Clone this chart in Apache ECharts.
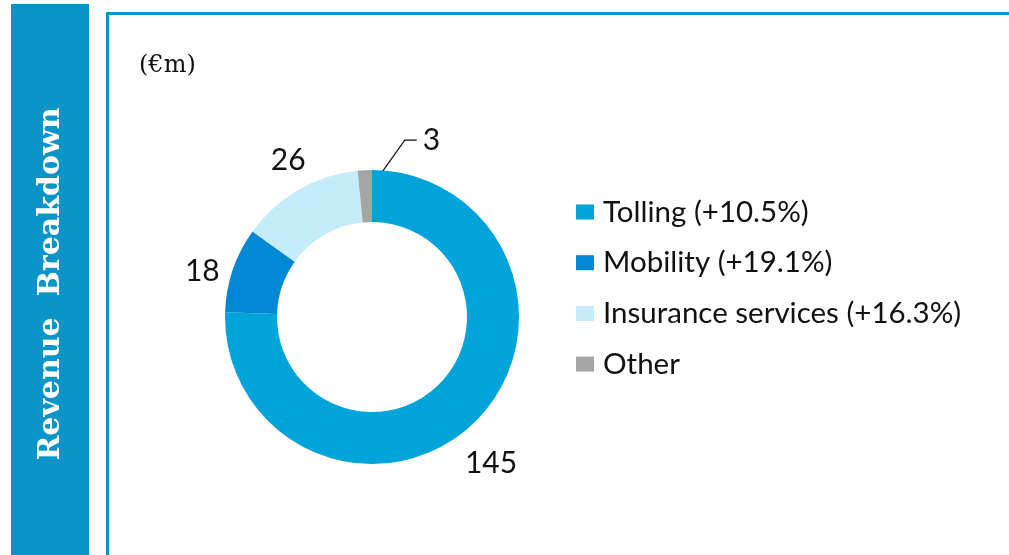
<!DOCTYPE html>
<html>
<head>
<meta charset="utf-8">
<script src="https://cdn.jsdelivr.net/npm/echarts@6/dist/echarts.min.js"></script>
<style>
  html, body { margin: 0; padding: 0; background: #fff; }
  #chart { width: 1009px; height: 555px; }
</style>
</head>
<body>
<div id="chart"></div>
<script>
// revenue split, €m
const categories = ['Tolling', 'Mobility', 'Insurance services', 'Other'];
const growth = ['+10.5%', '+19.1%', '+16.3%', ''];
const revenue = [145, 18, 26, 3];
const colors = ['#00a3da', '#0088d4', '#c6ecfb', '#a5a5a5'];

const names = categories.map((c, i) => growth[i] ? c + ' (' + growth[i] + ')' : c);
const pieData = names.map((n, i) => ({ name: n, value: revenue[i], itemStyle: { color: colors[i] } }));

// nudges for the value labels (Excel "best fit" spots)
const labelNudge = [[-10, 13], [6, 14], [9, 4], [0, 0]];

const myChart = echarts.init(document.getElementById('chart'));
const barColor = '#0a94c8';

const option = {
  animation: false,
  textStyle: { fontFamily: 'Lato' },
  graphic: [
    { type: 'rect', shape: { x: 11, y: 4, width: 78, height: 551 }, style: { fill: barColor } },
    { type: 'rect', shape: { x: 106, y: 12, width: 903, height: 3 }, style: { fill: barColor } },
    { type: 'rect', shape: { x: 106, y: 12, width: 3, height: 543 }, style: { fill: barColor } },
    {
      type: 'text', x: 51, y: 284, rotation: Math.PI / 2,
      style: {
        text: 'Revenue  Breakdown', x: 0, y: 0, align: 'center', verticalAlign: 'middle',
        fill: '#fff', font: 'bold 30px "DejaVu Serif"'
      }
    },
    {
      type: 'text', x: 139, y: 66,
      style: { text: '(€m)', verticalAlign: 'middle', fill: '#111', font: '24px "DejaVu Serif"' }
    }
  ],
  legend: {
    orient: 'vertical',
    left: 576,
    top: 197,
    padding: 0,
    itemWidth: 18,
    itemHeight: 15,
    itemGap: 20.7,
    icon: 'rect',
    selectedMode: false,
    data: names,
    textStyle: { fontFamily: 'Lato', fontSize: 29.5, lineHeight: 28, color: '#111', padding: [0, 0, 0, 4] }
  },
  series: [
    {
      type: 'pie',
      center: [372, 317],
      radius: [95, 147],
      startAngle: 90,
      clockwise: true,
      silent: true,
      data: pieData,
      label: { show: false },
      labelLine: { show: false },
      emphasis: { disabled: true }
    },
    {
      // transparent ring that only carries the value labels
      type: 'pie',
      center: [372, 317],
      radius: [160, 205],
      startAngle: 90,
      clockwise: true,
      silent: true,
      data: pieData.map((d, i) => ({
        name: d.name, value: d.value,
        itemStyle: { color: 'rgba(0,0,0,0)' },
        label: i === 3 ? { show: false } : { offset: labelNudge[i] }
      })),
      label: {
        show: true, position: 'inside', formatter: '{c}',
        color: '#111', fontFamily: 'Lato', fontSize: 30
      },
      labelLine: { show: false },
      emphasis: { disabled: true }
    },
    {
      // small slice label with leader line
      type: 'pie',
      center: [372, 317],
      radius: [95, 147],
      startAngle: 90,
      clockwise: true,
      silent: true,
      data: pieData.map((d, i) => ({
        name: d.name, value: d.value,
        itemStyle: { color: 'rgba(0,0,0,0)' },
        label: { show: i === 3 },
        labelLine: { show: i === 3 }
      })),
      label: {
        position: 'outside', formatter: '{c}',
        color: '#111', fontFamily: 'Lato', fontSize: 30
      },
      labelLine: { length: 20, length2: 10, lineStyle: { color: '#111', width: 1.2 } },
      labelLayout: function (params) {
        if (!params.labelLinePoints) return {};
        const p = params.labelLinePoints[0];
        return {
          x: p[0] + 58,
          y: p[1] - 30,
          align: 'left',
          verticalAlign: 'middle',
          labelLinePoints: [[p[0] + 3, p[1] + 22], [p[0] + 40, p[1] - 30], [p[0] + 52, p[1] - 30]]
        };
      },
      emphasis: { disabled: true }
    }
  ]
};

myChart.setOption(option);
</script>
</body>
</html>
